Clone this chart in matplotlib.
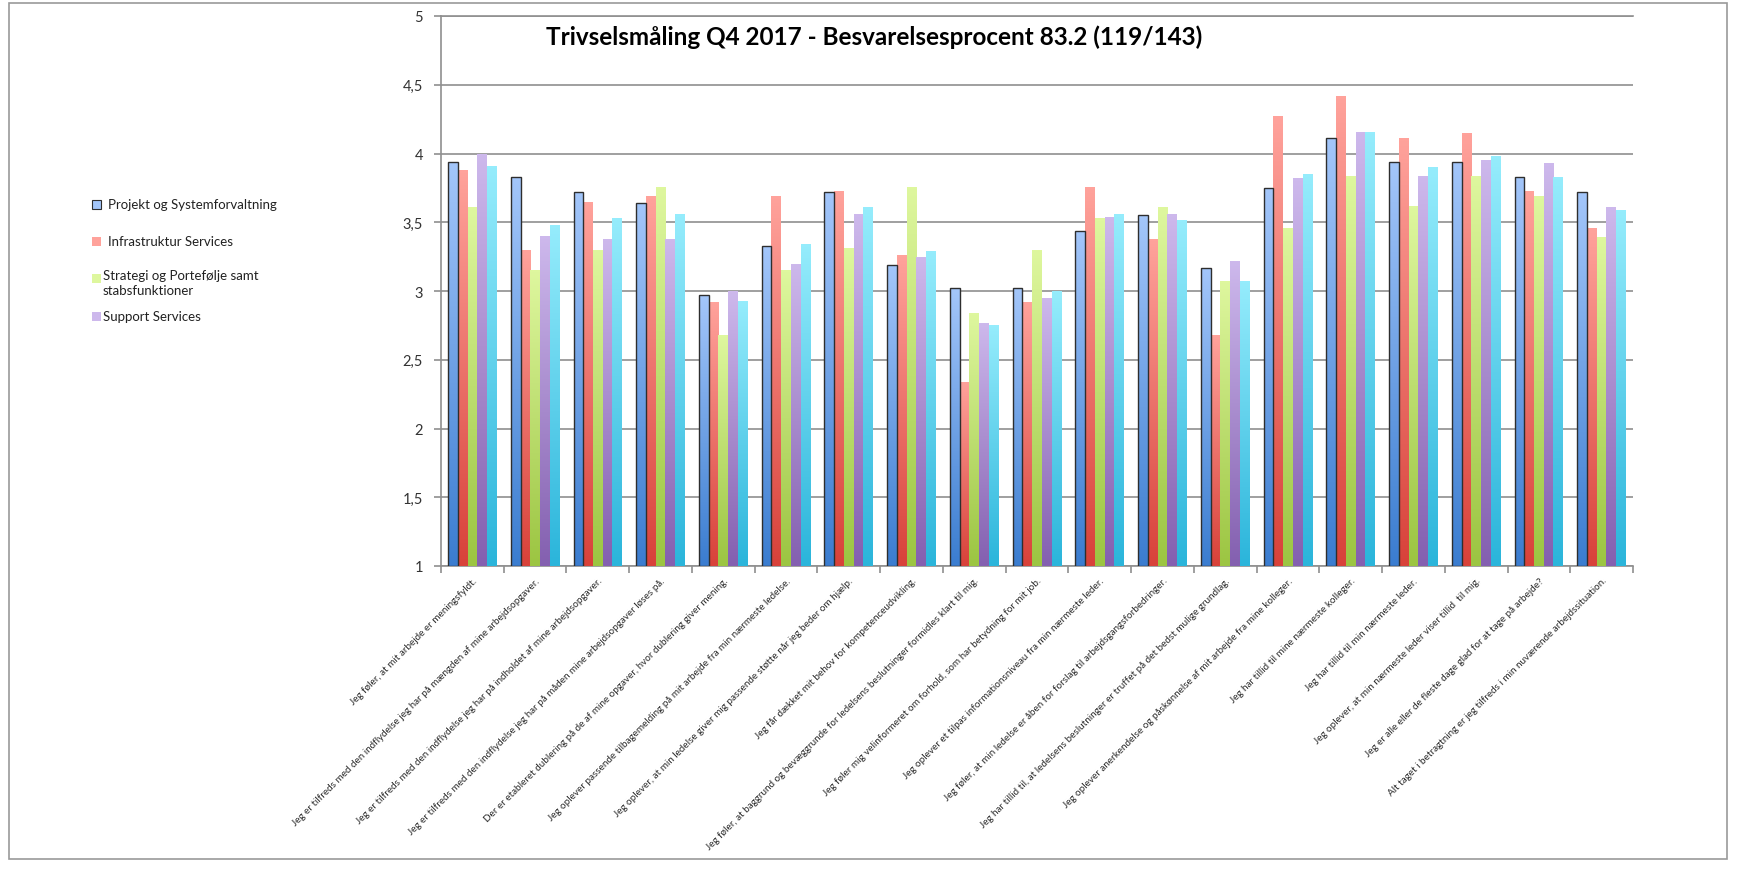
#!/usr/bin/env python3

import numpy as np
import matplotlib
matplotlib.use("Agg")
import matplotlib.pyplot as plt
from matplotlib.patches import Rectangle
from matplotlib.colors import to_rgb

plt.rcParams['font.family'] = ['Lato', 'DejaVu Sans']

# Questions (x categories)
questions = [
    "Jeg føler, at mit arbejde er meningsfyldt.",
    "Jeg er tilfreds med den indflydelse jeg har på mængden af mine arbejdsopgaver.",
    "Jeg er tilfreds med den indflydelse jeg har på indholdet af mine arbejdsopgaver.",
    "Jeg er tilfreds med den indflydelse jeg har på måden mine arbejdsopgaver løses på.",
    "Der er etableret dublering på de af mine opgaver, hvor dublering giver mening.",
    "Jeg oplever passende tilbagemelding på mit arbejde fra min nærmeste ledelse.",
    "Jeg oplever, at min ledelse giver mig passende støtte når jeg beder om hjælp.",
    "Jeg får dækket mit behov for kompetenceudvikling.",
    "Jeg føler, at baggrund og bevæggrunde for ledelsens beslutninger formidles klart til mig.",
    "Jeg føler mig velinformeret om forhold, som har betydning for mit job.",
    "Jeg oplever et tilpas informationsniveau fra min nærmeste leder.",
    "Jeg føler, at min ledelse er åben for forslag til arbejdsgangsforbedringer.",
    "Jeg har tillid til, at ledelsens beslutninger er truffet på det bedst mulige grundlag.",
    "Jeg oplever anerkendelse og påskønnelse af mit arbejde fra mine kolleger.",
    "Jeg har tillid til mine nærmeste kolleger.",
    "Jeg har tillid til min nærmeste leder.",
    "Jeg oplever, at min nærmeste leder viser tillid  til mig.",
    "Jeg er alle eller de fleste dage glad for at tage på arbejde?",
    "Alt taget i betragtning er jeg tilfreds i min nuværende arbejdssituation.",
]

# Average score per department
projekt = [3.94, 3.83, 3.72, 3.64, 2.97, 3.33, 3.72, 3.19, 3.02, 3.02,
           3.44, 3.55, 3.17, 3.75, 4.11, 3.94, 3.94, 3.83, 3.72]
infra = [3.88, 3.30, 3.65, 3.69, 2.92, 3.69, 3.73, 3.26, 2.34, 2.92,
         3.76, 3.38, 2.68, 4.27, 4.42, 4.11, 4.15, 3.73, 3.46]
strategi = [3.61, 3.15, 3.30, 3.76, 2.68, 3.15, 3.31, 3.76, 2.84, 3.30,
            3.53, 3.61, 3.07, 3.46, 3.84, 3.62, 3.84, 3.69, 3.39]
support = [4.00, 3.40, 3.38, 3.38, 3.00, 3.20, 3.56, 3.25, 2.77, 2.95,
           3.54, 3.56, 3.22, 3.82, 4.16, 3.84, 3.95, 3.93, 3.61]
ukendt = [3.91, 3.48, 3.53, 3.56, 2.93, 3.34, 3.61, 3.29, 2.75, 3.00,
          3.56, 3.52, 3.07, 3.85, 4.16, 3.90, 3.98, 3.83, 3.59]

series = [projekt, infra, strategi, support, ukendt]
legend_names = ["Projekt og Systemforvaltning", "Infrastruktur Services",
                "Strategi og Portefølje samt\nstabsfunktioner", "Support Services"]

# (top colour, bottom colour) gradients
gradients = [("#a3c6fa", "#3b7dd0"), ("#ffa29b", "#d8423a"), ("#def79e", "#9cc542"),
             ("#cdb8ec", "#8460b0"), ("#95ecfc", "#2bb5db")]

BASE = 1.0


def gradient_img(top, bot, n=64):
    t = np.linspace(0, 1, n)[:, None]
    c0 = np.array(to_rgb(top))
    c1 = np.array(to_rgb(bot))
    return (c0 * (1 - t) + c1 * t)[:, None, :]


fig = plt.figure(figsize=(17.41, 8.70), dpi=100)
ax = fig.add_axes([441 / 1741, 1 - 567 / 870, 1192 / 1741, 550 / 870])

x = np.arange(len(questions))
w = 0.155
for i, vals in enumerate(series):
    vals = np.array(vals)
    pos = x + (i - 2) * w
    bars = ax.bar(pos, vals - BASE, w, bottom=BASE, color='none', linewidth=0, zorder=3)
    img = gradient_img(*gradients[i])
    for b in bars:
        x0, y0 = b.get_x(), b.get_y()
        im = ax.imshow(img, extent=(x0, x0 + b.get_width(), y0, y0 + b.get_height()),
                       aspect='auto', zorder=3, interpolation='bilinear')
        im.set_clip_path(b)
    if i == 0:
        ax.bar(pos, vals - BASE, w, bottom=BASE, facecolor='none',
               edgecolor='#2e2e2e', linewidth=1.0, zorder=4)

ax.set_xlim(-0.5, len(questions) - 0.5)
ax.set_ylim(1, 5)
yt = np.arange(1, 5.01, 0.5)
ax.set_yticks(yt)
ax.set_yticklabels([("%g" % v).replace('.', ',') for v in yt], fontsize=10.5, color='#333333')
ax.yaxis.grid(True, color='#8f8f8f', linewidth=1.2, zorder=0)
ax.axhline(5, color='#8f8f8f', linewidth=1.2, clip_on=False, zorder=0)
ax.set_axisbelow(True)
for s in ['top', 'right']:
    ax.spines[s].set_visible(False)
for s in ['left', 'bottom']:
    ax.spines[s].set_color('#8f8f8f')
    ax.spines[s].set_linewidth(1.2)
ax.tick_params(axis='y', length=5, color='#8f8f8f', width=1.2, pad=8)

ax.set_xticks(x)
ax.set_xticklabels(questions, rotation=45, ha='right', rotation_mode='anchor',
                   fontsize=7.1, color='#2a2a2a')
ax.set_xticks(np.arange(len(questions) + 1) - 0.5, minor=True)
ax.tick_params(axis='x', which='major', length=0, pad=7)
ax.tick_params(axis='x', which='minor', length=5, color='#8f8f8f', width=1.2)

fig.text(874 / 1741, 1 - 37 / 870, "Trivselsmåling Q4 2017 - Besvarelsesprocent 83.2 (119/143)",
         ha='center', va='center', fontsize=17.5, fontweight='bold')

# legend (only four entries, as in the original)
leg_y = [205, 242, 279, 317]
leg_tx = [108, 108, 103, 103]
for i, name in enumerate(legend_names):
    yc = leg_y[i]
    ec = '#2e2e2e' if i == 0 else 'none'
    fig.patches.append(Rectangle((92 / 1741, 1 - (yc + 5) / 870), 9 / 1741, 9 / 870,
                                 transform=fig.transFigure, facecolor=gradients[i][0],
                                 edgecolor=ec, linewidth=0.8))
    if '\n' in name:
        fig.text(leg_tx[i] / 1741, 1 - (yc - 9) / 870, name, ha='left', va='top',
                 fontsize=9.5, color='#222222', linespacing=1.35)
    else:
        fig.text(leg_tx[i] / 1741, 1 - yc / 870, name, ha='left', va='center',
                 fontsize=9.5, color='#222222')

# outer frame
fig.patches.append(Rectangle((9 / 1741, 10 / 870), 1718 / 1741, 856 / 870,
                             transform=fig.transFigure, facecolor='none',
                             edgecolor='#9a9a9a', linewidth=1.2))

fig.savefig('out.png', dpi=100)
